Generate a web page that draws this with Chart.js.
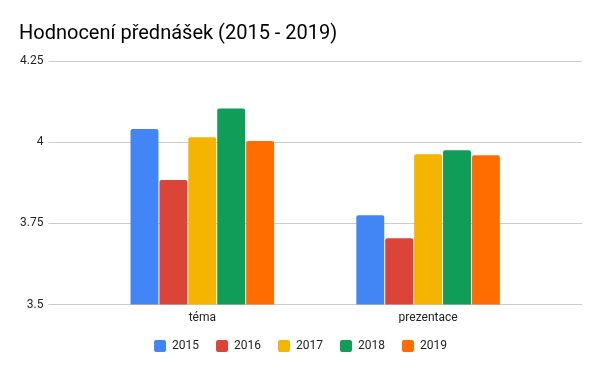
<!DOCTYPE html>
<html>
<head>
<meta charset="utf-8">
<script src="https://cdn.jsdelivr.net/npm/chart.js@4/dist/chart.umd.min.js"></script>
<style>
  html, body { margin: 0; padding: 0; background: #fff; }
  #wrap { width: 600px; height: 371px; }
</style>
</head>
<body>
<div id="wrap"><canvas id="hodnoceni"></canvas></div>
<script>
// data
var categories = ['téma', 'prezentace'];
var years = ['2015', '2016', '2017', '2018', '2019'];
var values2015 = [4.041, 3.775];
var values2016 = [3.884, 3.704];
var values2017 = [4.015, 3.963];
var values2018 = [4.104, 3.975];
var values2019 = [4.004, 3.960];
var yTicks = [3.5, 3.75, 4, 4.25];

var colorList = ['#4285f4', '#db4437', '#f4b400', '#0f9d58', '#ff6d00'];
var seriesValues = [values2015, values2016, values2017, values2018, values2019];

Chart.defaults.font.family = 'Roboto, sans-serif';
Chart.defaults.color = '#222';

var dataSets = [];
for (var i = 0; i < years.length; i++) {
	dataSets[i] = {
		label: years[i],
		data: seriesValues[i],
		backgroundColor: colorList[i],
		borderRadius: { topLeft: 2, topRight: 2 },
		borderSkipped: 'bottom',
		categoryPercentage: 0.64,
		barPercentage: 0.966,
	};
}

// same fixed ticks on both y axes
function setTicks(axis) {
	axis.ticks = yTicks.map(function (v) { return { value: v }; });
}

var ctx = document.getElementById('hodnoceni').getContext('2d');
var chart = new Chart(ctx, {
	type: 'bar',
	data: {
		labels: categories,
		datasets: dataSets,
	},
	options: {
		responsive: true,
		maintainAspectRatio: false,
		animation: false,
		layout: { padding: { left: 19, right: 18, top: 0, bottom: 18 } },
		plugins: {
			title: {
				display: true,
				text: 'Hodnocení přednášek (2015 - 2019)',
				align: 'start',
				color: '#000',
				font: { size: 20, weight: 'normal' },
				padding: { top: 22, bottom: 15 },
			},
			legend: {
				position: 'bottom',
				maxHeight: 30,
				labels: {
					boxWidth: 12,
					boxHeight: 12,
					useBorderRadius: true,
					borderRadius: 2,
					padding: 17,
					font: { size: 12 },
					color: '#222',
				},
			},
			tooltip: { enabled: false },
		},
		scales: {
			x: {
				grid: { display: false, drawTicks: false },
				border: { display: false },
				ticks: { padding: 6, font: { size: 12 } },
				afterFit: function (axis) {
					axis.height -= 8;
				},
			},
			y: {
				min: 3.5,
				max: 4.25,
				afterBuildTicks: setTicks,
				afterFit: function (axis) {
					axis.width -= 4;
				},
				grid: {
					color: '#cccccc',
					tickLength: 41,
					tickColor: '#cccccc',
				},
				border: { display: false },
				ticks: {
					padding: 5,
					font: { size: 12 },
					color: '#222',
					callback: function (value) {
						return String(value);
					},
				},
			},
			yRight: {
				position: 'right',
				min: 3.5,
				max: 4.25,
				afterBuildTicks: setTicks,
				grid: {
					drawOnChartArea: false,
					tickLength: 41,
					tickColor: '#cccccc',
				},
				border: { display: false },
				ticks: { display: false },
			},
		},
	},
});
</script>
</body>
</html>
